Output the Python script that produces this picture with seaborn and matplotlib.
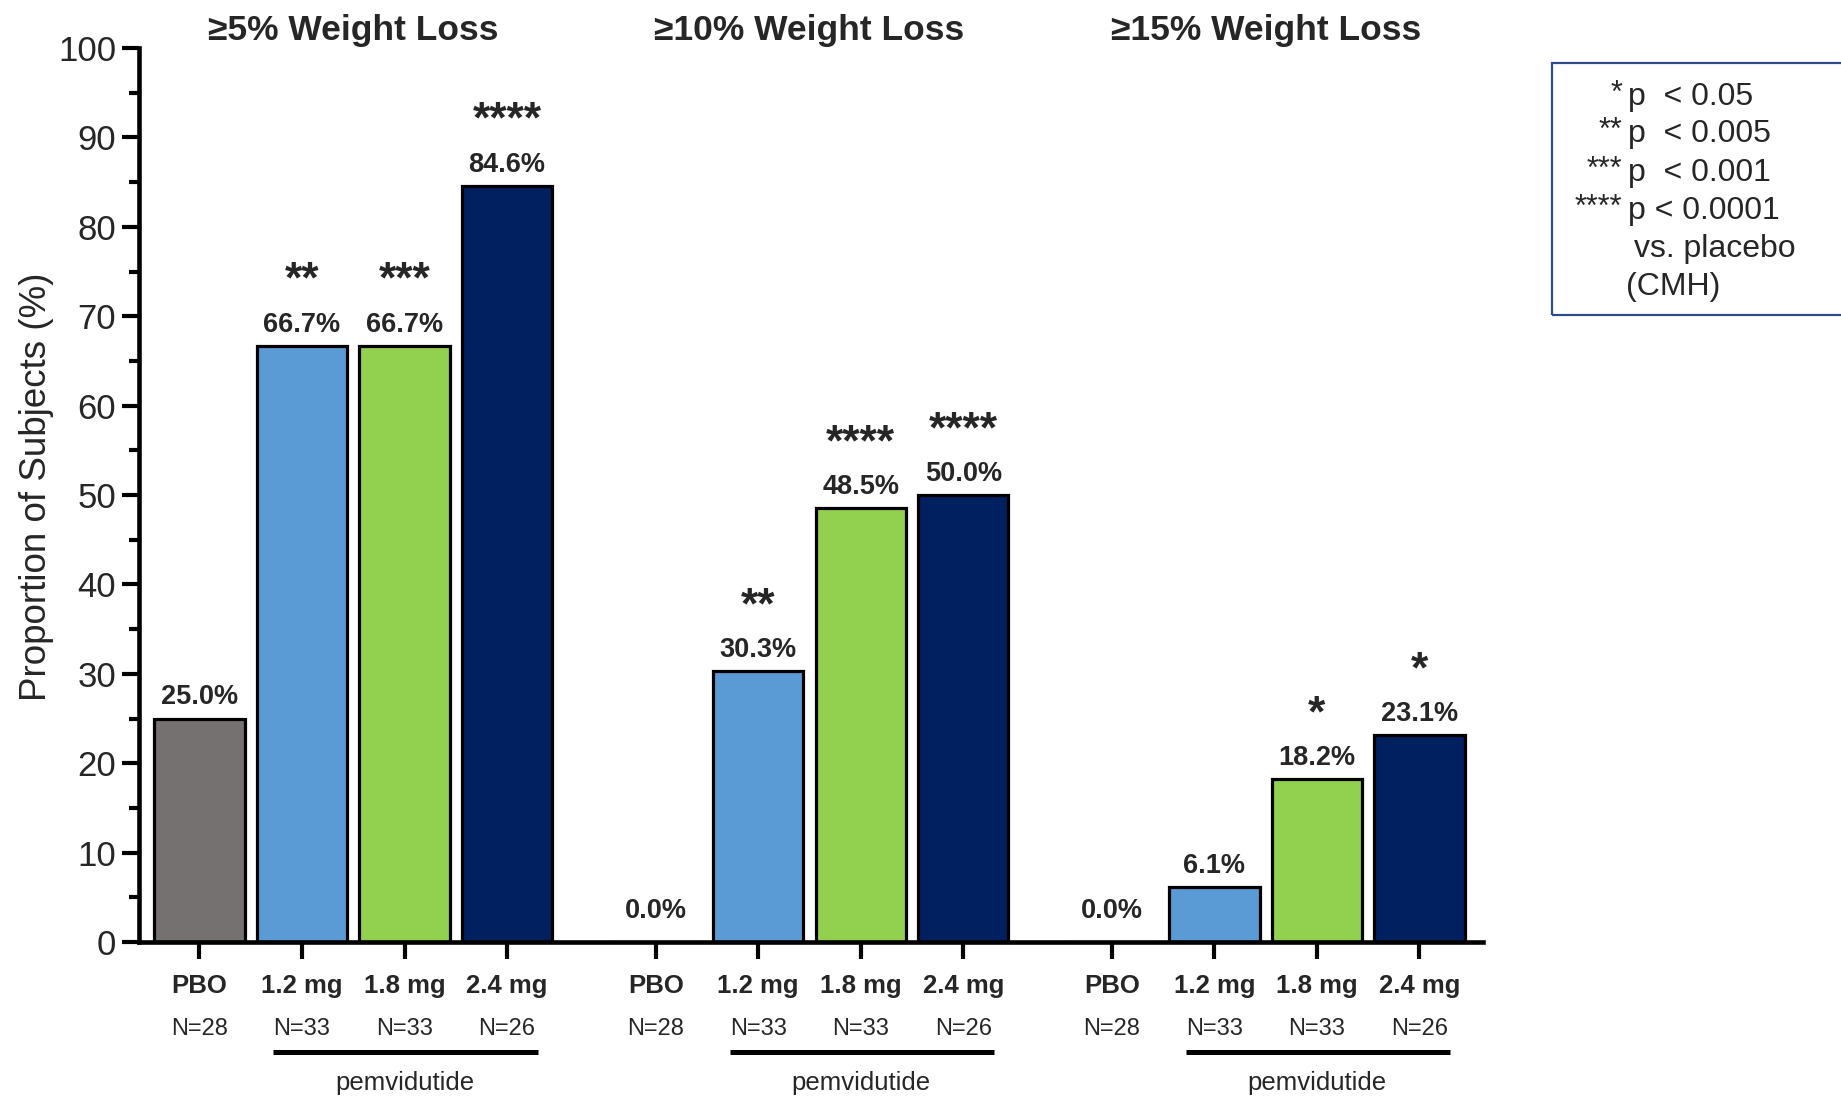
import matplotlib
matplotlib.use("Agg")
import matplotlib.pyplot as plt
import numpy as np
import pandas as pd
import seaborn as sns
from matplotlib.patches import Rectangle

# ---- data -------------------------------------------------------------
endpoints = ["≥5% Weight Loss", "≥10% Weight Loss", "≥15% Weight Loss"]
arms = ["PBO", "1.2 mg", "1.8 mg", "2.4 mg"]
arm_n = [28, 33, 33, 26]
pct_wl5 = [25.0, 66.7, 66.7, 84.6]
pct_wl10 = [0.0, 30.3, 48.5, 50.0]
pct_wl15 = [0.0, 6.1, 18.2, 23.1]
sig_wl5 = ["", "**", "***", "****"]
sig_wl10 = ["", "**", "****", "****"]
sig_wl15 = ["", "", "*", "*"]
drug_name = "pemvidutide"
sig_key_stars = ["*", "**", "***", "****"]
sig_key_text = ["p  < 0.05", "p  < 0.005", "p  < 0.001", "p < 0.0001"]
sig_note = ["vs. placebo", "(CMH)"]
y_label = "Proportion of Subjects (%)"

arm_colors = ["#767171", "#5B9BD5", "#92D050", "#002060"]

# ---- styling ----------------------------------------------------------
sns.set_theme(style="ticks")
FONT = ["Liberation Sans", "DejaVu Sans"]
plt.rcParams["font.family"] = FONT

GROUP_STEP = 4.45
BAR_W = 0.88

rows = []
for g, (name, vals, sigs) in enumerate(zip(endpoints,
                                           [pct_wl5, pct_wl10, pct_wl15],
                                           [sig_wl5, sig_wl10, sig_wl15])):
    for i, arm in enumerate(arms):
        rows.append({"endpoint": name, "arm": arm, "n": arm_n[i],
                     "pct": vals[i], "sig": sigs[i],
                     "pos": g * GROUP_STEP + i})
df = pd.DataFrame(rows)

W, H = 1841.0, 1099.0
fig = plt.figure(figsize=(W / 100, H / 100), dpi=100)
ax_left, ax_right, ax_bottom, ax_top = 138.5, 1483.0, 942.0, 48.0
ax = fig.add_axes([ax_left / W, 1 - ax_bottom / H,
                   (ax_right - ax_left) / W, (ax_bottom - ax_top) / H])

sns.barplot(data=df, x="pos", y="pct", hue="arm", hue_order=arms,
            palette=arm_colors, saturation=1, native_scale=True,
            dodge=False, width=BAR_W, edgecolor="black", linewidth=2.3,
            errorbar=None, legend=False, ax=ax)

ax.set_xlim(-0.595, 12.52)
ax.set_ylim(0, 100)
sns.despine(ax=ax)
for side in ("left", "bottom"):
    ax.spines[side].set_linewidth(3.3)
    ax.spines[side].set_color("black")

# y axis
ax.set_yticks(np.arange(0, 101, 10))
ax.set_yticks(np.arange(5, 100, 10), minor=True)
ax.tick_params(axis="y", which="major", length=12, width=3.0,
               labelsize=25, pad=4, direction="out", color="black")
ax.tick_params(axis="y", which="minor", length=7, width=3.0,
               direction="out", color="black")
ax.set_ylabel(y_label, fontsize=26.5)
ax.yaxis.set_label_coords((54 - ax_left) / (ax_right - ax_left), 0.509)

# x axis: ticks under each bar, labels drawn as text below
ax.set_xticks(df["pos"])
ax.set_xticklabels([])
ax.tick_params(axis="x", which="major", length=12.5, width=3.0,
               direction="out", color="black")
ax.set_xlabel("")

xt = ax.get_xaxis_transform()
for _, r in df.iterrows():
    ax.text(r["pos"], -0.057, r["arm"], transform=xt, ha="center",
            va="baseline", fontsize=18.5, fontweight="bold")
    ax.text(r["pos"], -0.1035, f"N={r['n']}", transform=xt, ha="center",
            va="baseline", fontsize=17)

for g, name in enumerate(endpoints):
    base = g * GROUP_STEP
    ax.plot([base + 1 - 0.28, base + 3 + 0.30], [-0.123, -0.123],
            transform=xt, color="black", lw=3.6, clip_on=False,
            solid_capstyle="butt")
    ax.text(base + 2, -0.165, drug_name, transform=xt, ha="center",
            va="baseline", fontsize=18.5)
    ax.text(base + 1.5, 1.009, name, transform=xt, ha="center",
            va="baseline", fontsize=25.5, fontweight="bold")

# value and significance labels above bars
for _, r in df.iterrows():
    lift = 14 if r["pct"] > 0 else 24
    ax.annotate(f"{r['pct']:.1f}%", xy=(r["pos"], r["pct"]),
                xytext=(0, lift), textcoords="offset pixels", ha="center",
                va="baseline", fontsize=19.5, fontweight="bold")
    if r["sig"]:
        ax.annotate(r["sig"], xy=(r["pos"], r["pct"]),
                    xytext=(0, 53), textcoords="offset pixels",
                    ha="center", va="baseline", fontsize=32,
                    fontweight="bold")

# significance key box at the right
fig.patches.append(Rectangle((1552 / W, 1 - 315 / H), 0.2, (315 - 63) / H,
                             transform=fig.transFigure, fill=False,
                             edgecolor="#2F4B8C", lw=1.6, clip_on=False))
key_y = [96.5, 134, 172.5, 210.5]
for stars, txt, yy in zip(sig_key_stars, sig_key_text, key_y):
    fig.text(1622 / W, 1 - (yy - 3) / H, stars, ha="right", va="center",
             fontsize=22)
    fig.text(1628 / W, 1 - yy / H, txt, ha="left", va="center",
             fontsize=23)
fig.text(1634 / W, 1 - 249 / H, sig_note[0], ha="left", va="center",
         fontsize=23)
fig.text(1626 / W, 1 - 287.5 / H, sig_note[1], ha="left", va="center",
         fontsize=23)

fig.savefig("out.png", dpi=100, facecolor="white")
